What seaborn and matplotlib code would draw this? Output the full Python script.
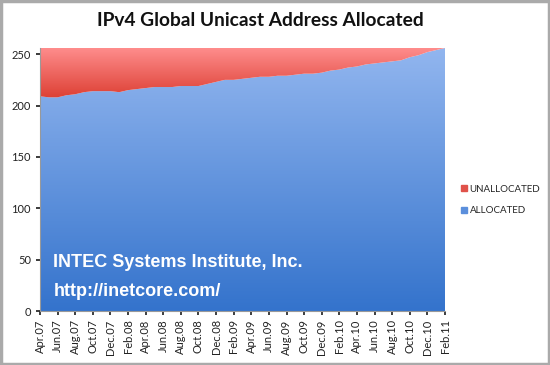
import matplotlib
matplotlib.use("Agg")
import matplotlib.pyplot as plt
import numpy as np
import seaborn as sns
from matplotlib.colors import LinearSegmentedColormap
from matplotlib.patches import Rectangle

TOTAL = 256
month_labels = [
    "Apr.07", "Jun.07", "Aug.07", "Oct.07", "Dec.07", "Feb.08", "Apr.08", "Jun.08",
    "Aug.08", "Oct.08", "Dec.08", "Feb.09", "Apr.09", "Jun.09", "Aug.09", "Oct.09",
    "Dec.09", "Feb.10", "Apr.10", "Jun.10", "Aug.10", "Oct.10", "Dec.10", "Feb.11",
]
# monthly allocated /8 blocks, Apr.07 .. Feb.11
allocated = [
    209, 208, 208, 210, 211, 213, 214, 214, 214, 213, 215, 216,
    217, 218, 218, 218, 219, 219, 219, 221, 223, 225, 225, 226,
    227, 228, 228, 229, 229, 230, 231, 231, 232, 234, 235, 237,
    238, 240, 241, 242, 243, 244, 247, 249, 252, 254, 256,
]

sns.set_theme(style="white")
plt.rcParams["font.family"] = ["Lato", "DejaVu Sans"]

fig = plt.figure(figsize=(5.5, 3.65), dpi=100)
ax = fig.add_axes([40 / 550, 1 - 311 / 365, 405 / 550, 263 / 365])

x = np.arange(len(allocated))
alloc = np.array(allocated)
total = np.full(len(x), TOTAL)

blue_cmap = LinearSegmentedColormap.from_list("b", ["#3473cc", "#92b6ef"])
red_cmap = LinearSegmentedColormap.from_list("r", ["#dc3e32", "#ff8e8e"])

poly_a = ax.fill_between(x, 0, alloc, color="none", lw=0)
poly_u = ax.fill_between(x, alloc, total, color="none", lw=0)

grad = np.linspace(0, 1, 256).reshape(-1, 1)
im_a = ax.imshow(grad, cmap=blue_cmap, origin="lower", aspect="auto",
                 extent=[x[0], x[-1], 0, TOTAL], zorder=1)
im_a.set_clip_path(poly_a.get_paths()[0], transform=ax.transData)
im_u = ax.imshow(grad, cmap=red_cmap, origin="lower", aspect="auto",
                 extent=[x[0], x[-1], 206, TOTAL], zorder=1)
im_u.set_clip_path(poly_u.get_paths()[0], transform=ax.transData)

ax.set_xlim(x[0], x[-1])
ax.set_ylim(0, TOTAL)
ax.set_xticks(x[::2])
ax.set_xticklabels(month_labels, rotation=90, fontsize=8, color="#222222")
ax.set_yticks([0, 50, 100, 150, 200, 250])
ax.tick_params(axis="y", labelsize=8, colors="#222222", length=3, left=True)
ax.tick_params(axis="x", length=3, bottom=True, pad=3)
for side in ["top", "right"]:
    ax.spines[side].set_visible(False)
for side in ["left", "bottom"]:
    ax.spines[side].set_color("#999999")
    ax.spines[side].set_linewidth(0.8)

fig.text(260 / 550, 1 - 21 / 365, "IPv4 Global Unicast Address Allocated",
         ha="center", va="center", fontsize=13.8, fontweight="bold", color="#111111")

ax.text(0.033, 0.186, "INTEC Systems Institute, Inc.", transform=ax.transAxes,
        fontsize=13, fontweight="bold", color="white",
        family=["Liberation Sans", "DejaVu Sans"], va="center")
ax.text(0.033, 0.076, "http://inetcore.com/", transform=ax.transAxes,
        fontsize=13, fontweight="bold", color="white",
        family=["Liberation Sans", "DejaVu Sans"], va="center")

handles = [Rectangle((0, 0), 1, 1, color="#e0524a"), Rectangle((0, 0), 1, 1, color="#5b8fdc")]
fig.legend(handles, ["UNALLOCATED", "ALLOCATED"], loc="center left",
           bbox_to_anchor=(452 / 550, 1 - 200 / 365), frameon=False, fontsize=7.0,
           handlelength=0.6, handleheight=0.6, handletextpad=0.3, labelspacing=1.3)

fig.patches.append(Rectangle((0.002, 0.003), 0.996, 0.994, transform=fig.transFigure,
                             fill=False, edgecolor="#aaaaaa", lw=2.5))

fig.savefig("out.png", dpi=100)
